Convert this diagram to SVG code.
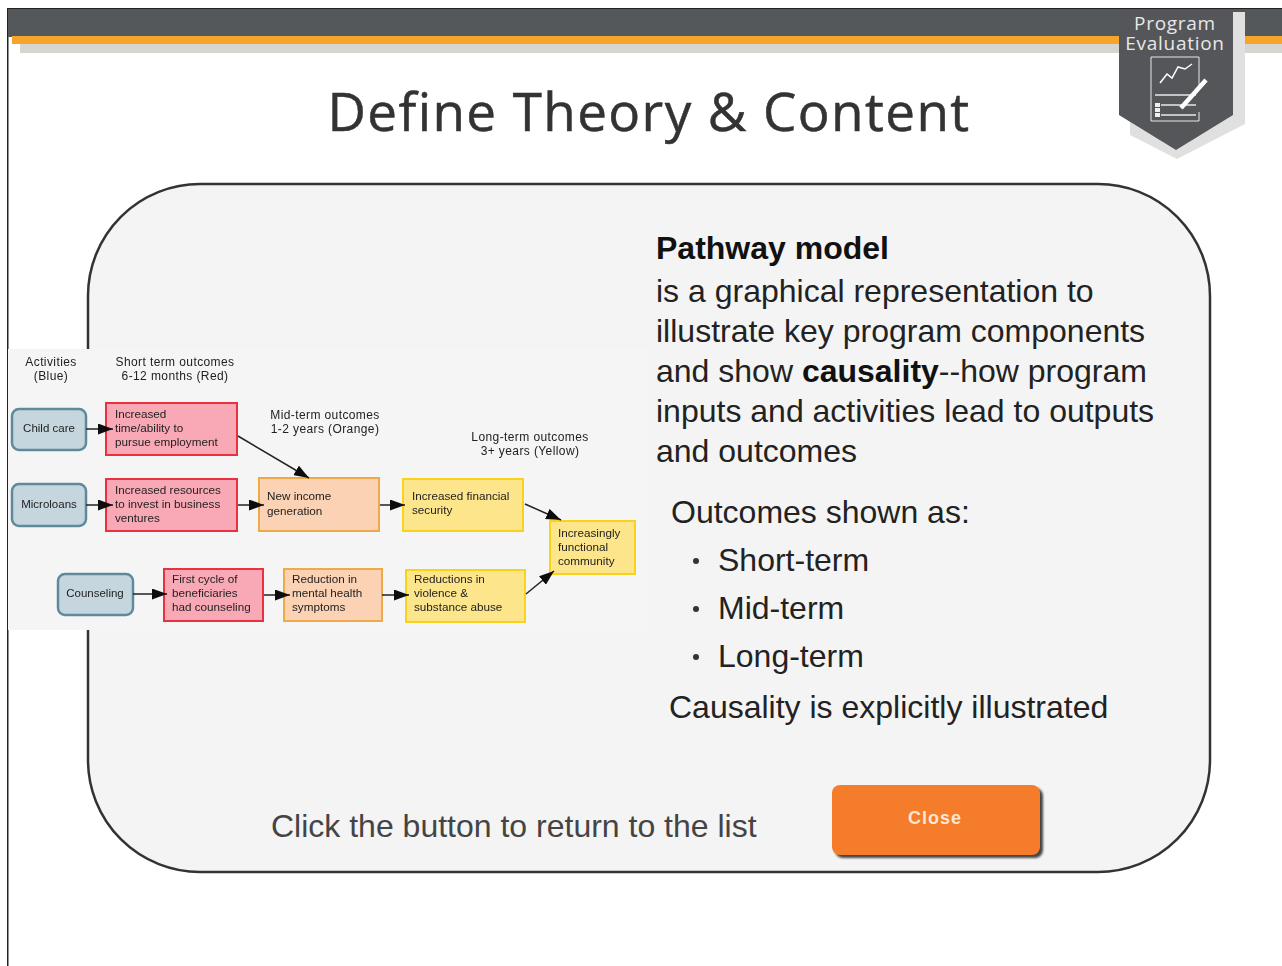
<svg xmlns="http://www.w3.org/2000/svg" width="1282" height="966" viewBox="0 0 1282 966">
<defs>
<marker id="arr" viewBox="0 0 15 11" refX="15" refY="5.5" markerWidth="15" markerHeight="11" markerUnits="userSpaceOnUse" orient="auto"><path d="M0 0L15 5.5L0 11Z" fill="#111"/></marker>
<filter id="soft" x="-2%" y="-2%" width="104%" height="104%"><feGaussianBlur stdDeviation="0.4"/></filter>
<filter id="btn" x="-5%" y="-10%" width="110%" height="125%"><feGaussianBlur stdDeviation="1"/></filter>
</defs>
<style>
text{font-family:"Liberation Sans",Arial,sans-serif}
.t{font-size:32px;fill:#222}
.d{font-size:11.7px;fill:#222}
.l{font-size:11.5px;fill:#222;text-anchor:middle}
.h{font-size:12px;letter-spacing:.4px;fill:#222;text-anchor:middle}
.blue{fill:#c6d6df;stroke:#5f8a9c;stroke-width:2.5}
.red{fill:#f9a9b6;stroke:#e8303f;stroke-width:2}
.org{fill:#fbd2b4;stroke:#f0a94a;stroke-width:2}
.yel{fill:#fde58c;stroke:#f9d21e;stroke-width:2}
.c{stroke:#222;stroke-width:1.5;fill:none;marker-end:url(#arr)}
.b{font-family:"Open Sans",sans-serif;font-size:19px;letter-spacing:.7px;text-anchor:middle;fill:#e8e8e8}
</style>
<rect width="1282" height="966" fill="#fff"/>
<rect x="7" y="8" width="1.5" height="958" fill="#222"/>
<g id="banner">
<rect x="20" y="44" width="1262" height="9" fill="#d5d6d2"/>
<rect x="8" y="9" width="1274" height="28" fill="#54585b"/>
<rect x="8" y="8" width="1274" height="1" fill="#222"/>
<rect x="12" y="36" width="1270" height="8" fill="#f5a42c"/>
</g>
<g id="badge">
<path d="M1130 12H1245V124L1177 159L1130 135Z" fill="#e0e0e0"/>
<path d="M1119 9H1233V115L1176 150L1119 115Z" fill="#54565a"/>
<text class="b" x="1175" y="30">Program</text>
<text class="b" x="1175" y="50">Evaluation</text>
<path d="M1151 121V57H1199V90M1199 112V121H1151" fill="none" stroke="#e8e8e8" stroke-width="1"/>
<path d="M1160 83L1167 74L1172 78L1178 67L1185 69L1192 64" fill="none" stroke="#fff" stroke-width="1.5"/>
<path d="M1155 95H1196M1161 105H1196M1161 115H1196" stroke="#e8e8e8" stroke-width="1.3" fill="none"/>
<path d="M1155 103h5v4h-5zM1155 108h5v4h-5zM1155 113h5v4h-5z" fill="#eee"/>
<path d="M1181 108L1206 80" stroke="#fff" stroke-width="4.5"/>
</g>
<text id="title" x="649" y="131" text-anchor="middle" style="font-family:'Open Sans',sans-serif;font-size:53px;letter-spacing:1.4px" fill="#333" stroke="#333" stroke-width=".5">Define Theory &amp; Content</text>
<g id="panel">
<rect x="88" y="184" width="1122" height="688" rx="112" fill="#f4f4f4" stroke="#333" stroke-width="2.5"/>
<rect x="8" y="349" width="640" height="281" fill="#f5f5f5"/>
</g>
<g id="diagram" filter="url(#soft)">
<g id="headers">
<text class="h" x="51" y="366">Activities</text><text class="h" x="51" y="380">(Blue)</text>
<text class="h" x="175" y="366">Short term outcomes</text><text class="h" x="175" y="380">6-12 months (Red)</text>
<text class="h" x="325" y="419">Mid-term outcomes</text><text class="h" x="325" y="433">1-2 years (Orange)</text>
<text class="h" x="530" y="441">Long-term outcomes</text><text class="h" x="530" y="455">3+ years (Yellow)</text>
</g>
<g id="n-childcare"><rect class="blue" x="12" y="409" width="74" height="41" rx="7"/><text class="l" x="49" y="432">Child care</text></g>
<g id="n-microloans"><rect class="blue" x="12" y="484" width="74" height="42" rx="7"/><text class="l" x="49" y="508">Microloans</text></g>
<g id="n-counseling"><rect class="blue" x="58" y="574" width="75" height="41" rx="7"/><text class="l" x="95" y="597">Counseling</text></g>
<g id="n-r1"><rect class="red" x="106" y="403" width="131" height="52"/><text class="d" x="115" y="418">Increased</text><text class="d" x="115" y="432">time/ability to</text><text class="d" x="115" y="446">pursue employment</text></g>
<g id="n-r2"><rect class="red" x="106" y="479" width="131" height="52"/><text class="d" x="115" y="494">Increased resources</text><text class="d" x="115" y="508">to invest in business</text><text class="d" x="115" y="522">ventures</text></g>
<g id="n-r3"><rect class="red" x="164" y="569" width="99" height="52"/><text class="d" x="172" y="583">First cycle of</text><text class="d" x="172" y="597">beneficiaries</text><text class="d" x="172" y="611">had counseling</text></g>
<g id="n-o1"><rect class="org" x="259" y="478" width="120" height="53"/><text class="d" x="267" y="500">New income</text><text class="d" x="267" y="515">generation</text></g>
<g id="n-o2"><rect class="org" x="284" y="569" width="98" height="52"/><text class="d" x="292" y="583">Reduction in</text><text class="d" x="292" y="597">mental health</text><text class="d" x="292" y="611">symptoms</text></g>
<g id="n-y1"><rect class="yel" x="403" y="479" width="120" height="52"/><text class="d" x="412" y="500">Increased financial</text><text class="d" x="412" y="514">security</text></g>
<g id="n-y2"><rect class="yel" x="406" y="570" width="119" height="52"/><text class="d" x="414" y="583">Reductions in</text><text class="d" x="414" y="597">violence &amp;</text><text class="d" x="414" y="611">substance abuse</text></g>
<g id="n-y3"><rect class="yel" x="550" y="521" width="85" height="53"/><text class="d" x="558" y="537">Increasingly</text><text class="d" x="558" y="551">functional</text><text class="d" x="558" y="565">community</text></g>
<g id="connectors">
<path class="c" d="M86 429H113"/>
<path class="c" d="M86 505H113"/>
<path class="c" d="M133 594H167"/>
<path class="c" d="M238 436L309 478"/>
<path class="c" d="M238 505H264"/>
<path class="c" d="M264 595H290"/>
<path class="c" d="M380 505H405"/>
<path class="c" d="M382 595H409"/>
<path class="c" d="M525 504L561 520"/>
<path class="c" d="M526 594L554 571"/>
</g>
</g>
<g id="copy">
<text class="t" x="656" y="259" style="font-weight:700;fill:#111">Pathway model</text>
<text class="t" x="656" y="302">is a graphical representation to</text>
<text class="t" x="656" y="342">illustrate key program components</text>
<text class="t" x="656" y="382">and show <tspan font-weight="700" fill="#111">causality</tspan>--how program</text>
<text class="t" x="656" y="422">inputs and activities lead to outputs</text>
<text class="t" x="656" y="462">and outcomes</text>
<text class="t" x="671" y="523">Outcomes shown as:</text>
<circle cx="696" cy="561" r="3" fill="#333"/><text class="t" x="718" y="571">Short-term</text>
<circle cx="696" cy="609" r="3" fill="#333"/><text class="t" x="718" y="619">Mid-term</text>
<circle cx="696" cy="657" r="3" fill="#333"/><text class="t" x="718" y="667">Long-term</text>
<text class="t" x="669" y="718">Causality is explicitly illustrated</text>
<text class="t" x="271" y="837" style="fill:#444">Click the button to return to the list</text>
</g>
<g id="close">
<rect x="835" y="788" width="208" height="70" rx="8" fill="#444" filter="url(#btn)"/>
<rect x="832" y="785" width="208" height="70" rx="8" fill="#f57c2a"/>
<text x="935" y="824" text-anchor="middle" style="font-size:18px;font-weight:700;letter-spacing:1px" fill="#fde7d0">Close</text>
</g>
</svg>
